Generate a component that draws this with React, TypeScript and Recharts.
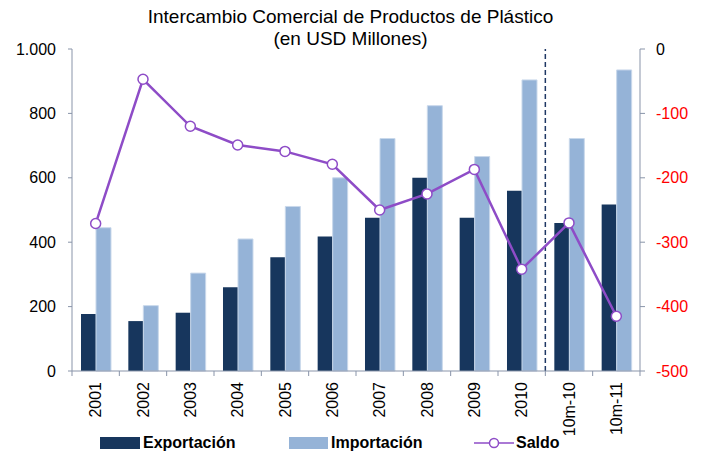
import {
  Bar,
  ComposedChart,
  Legend,
  Line,
  ReferenceLine,
  XAxis,
  YAxis,
} from "recharts";

const categories = [
  "2001",
  "2002",
  "2003",
  "2004",
  "2005",
  "2006",
  "2007",
  "2008",
  "2009",
  "2010",
  "10m-10",
  "10m-11",
];
const exportacion = [177, 155, 181, 260, 353, 418, 476, 600, 476, 560, 460, 517];
const importacion = [445, 203, 304, 410, 511, 600, 722, 824, 666, 904, 722, 935];
const saldo = [-271, -47, -120, -149, -159, -179, -250, -225, -187, -342, -270, -415];

const leftTicks = [0, 200, 400, 600, 800, 1000];
const rightTicks = [-500, -400, -300, -200, -100, 0];

const data = categories.map((c, i) => ({
  name: c,
  exportacion: exportacion[i],
  importacion: importacion[i],
  saldo: saldo[i],
}));

const FONT = "'Liberation Sans', Arial, sans-serif";
const AXIS = "#8994A9";
const DARK = "#17365D";
const LIGHT = "#95B3D7";
const PURPLE = "#8E4CC7";

const fmt = (v: number) =>
  v >= 1000 ? `${Math.floor(v / 1000)}.${String(v % 1000).padStart(3, "0")}` : String(v);

const XTick = (props: any) => {
  const { x, y, payload, index, visibleTicksCount } = props;
  const half = payload?.offset ?? 23.7;
  const last = index === (visibleTicksCount ?? categories.length) - 1;
  return (
    <g>
      <line x1={x - half} y1={y - 8} x2={x - half} y2={y - 3} stroke={AXIS} />
      {last && <line x1={x + half} y1={y - 8} x2={x + half} y2={y - 3} stroke={AXIS} />}
      <text
        x={x}
        y={y + 3}
        dy="0.35em"
        textAnchor="end"
        transform={`rotate(-90, ${x}, ${y + 3})`}
        fontSize={16}
        fontFamily={FONT}
        fill="#000"
      >
        {payload.value}
      </text>
    </g>
  );
};

const RightTick = (props: any) => {
  const { x, y, payload } = props;
  return (
    <text
      x={x}
      y={y}
      dy="0.35em"
      textAnchor="start"
      fontSize={16}
      fontFamily={FONT}
      fill={payload.value === 0 ? "#000" : "#FF0000"}
    >
      {payload.value}
    </text>
  );
};

const legendText = {
  position: "absolute" as const,
  top: 3,
  fontSize: 16,
  fontWeight: 700,
  fontFamily: FONT,
  color: "#000",
  lineHeight: "18px",
};

const LegendBox = () => (
  <div style={{ position: "relative", height: 24, width: 701 }}>
    <div style={{ position: "absolute", left: 100, top: 6, width: 40, height: 12, background: DARK }} />
    <div style={{ ...legendText, left: 143 }}>Exportación</div>
    <div style={{ position: "absolute", left: 289, top: 6, width: 39, height: 12, background: LIGHT }} />
    <div style={{ ...legendText, left: 331 }}>Importación</div>
    <svg style={{ position: "absolute", left: 474, top: 4 }} width={40} height={16}>
      <line x1={0} y1={8} x2={40} y2={8} stroke={PURPLE} strokeWidth={1.5} />
      <circle cx={20} cy={8} r={4.5} fill="#fff" stroke={PURPLE} strokeWidth={1.5} />
    </svg>
    <div style={{ ...legendText, left: 516 }}>Saldo</div>
  </div>
);

export default function App() {
  return (
    <div style={{ position: "absolute", left: 0, top: 0, width: 701, height: 455, background: "#fff" }}>
      <div
        style={{
          position: "absolute",
          left: 0,
          top: 6,
          width: 701,
          textAlign: "center",
          fontFamily: FONT,
          fontSize: 19,
          lineHeight: "22px",
          color: "#000",
        }}
      >
        Intercambio Comercial de Productos de Plástico
        <br />
        (en USD Millones)
      </div>
      <ComposedChart
        width={701}
        height={455}
        data={data}
        margin={{ top: 49, right: 0, left: 0, bottom: 0 }}
        barGap={0}
        barCategoryGap="19%"
      >
        <XAxis
          dataKey="name"
          height={60}
          interval={0}
          axisLine={{ stroke: AXIS }}
          tickLine={false}
          tick={<XTick />}
          yAxisId="left"
        />
        <YAxis
          yAxisId="left"
          orientation="left"
          width={72}
          domain={[0, 1000]}
          ticks={leftTicks}
          tickFormatter={fmt}
          axisLine={{ stroke: AXIS }}
          tickLine={{ stroke: AXIS }}
          tickSize={4}
          tickMargin={12}
          tick={{ fill: "#000", fontSize: 16, fontFamily: FONT }}
        />
        <YAxis
          yAxisId="right"
          orientation="right"
          width={61}
          domain={[-500, 0]}
          ticks={rightTicks}
          axisLine={{ stroke: AXIS }}
          tickLine={{ stroke: AXIS }}
          tickSize={5}
          tickMargin={11}
          tick={<RightTick />}
        />
        <Bar yAxisId="left" dataKey="exportacion" fill={DARK} isAnimationActive={false} />
        <Bar
          yAxisId="left"
          dataKey="importacion"
          fill={LIGHT}
          stroke="#C9D8EB"
          strokeWidth={1}
          isAnimationActive={false}
        />
        <ReferenceLine
          yAxisId="left"
          x="10m-10"
          position="start"
          stroke="#1F3864"
          strokeWidth={1.5}
          strokeDasharray="5 3"
        />
        <Line
          yAxisId="right"
          dataKey="saldo"
          stroke={PURPLE}
          strokeWidth={2.5}
          dot={{ r: 5, fill: "#fff", stroke: PURPLE, strokeWidth: 1.5 }}
          isAnimationActive={false}
        />
        <Legend verticalAlign="bottom" height={24} content={<LegendBox />} />
      </ComposedChart>
    </div>
  );
}
